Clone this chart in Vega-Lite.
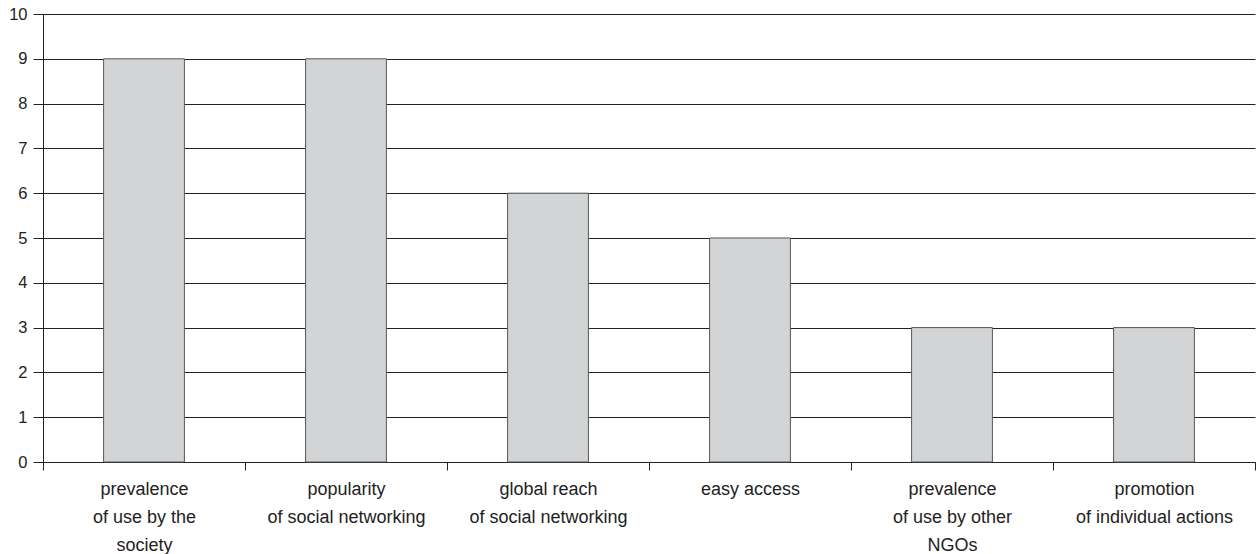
{
  "$schema": "https://vega.github.io/schema/vega-lite/v6.json",
  "width": 1212,
  "height": 448,
  "autosize": {"type": "none"},
  "padding": {"left": 43, "top": 14, "right": 1, "bottom": 92},
  "background": "white",
  "config": {
    "view": {"stroke": null},
    "font": "Liberation Sans"
  },
  "data": {
    "values": [
      {"reason": "prevalence|of use by the|society", "count": 9},
      {"reason": "popularity|of social networking", "count": 9},
      {"reason": "global reach|of social networking", "count": 6},
      {"reason": "easy access", "count": 5},
      {"reason": "prevalence|of use by other|NGOs", "count": 3},
      {"reason": "promotion|of individual actions", "count": 3}
    ]
  },
  "mark": {
    "type": "bar",
    "width": {"band": 0.4},
    "fill": "#d3d4d6",
    "stroke": "#555555",
    "strokeWidth": 1
  },
  "encoding": {
    "x": {
      "field": "reason",
      "type": "nominal",
      "sort": null,
      "scale": {"paddingInner": 0, "paddingOuter": 0},
      "axis": {
        "title": null,
        "labelAngle": 0,
        "labelExpr": "split(datum.label, '|')",
        "labelFont": "Liberation Sans",
        "labelFontSize": 18,
        "labelColor": "#222222",
        "labelLineHeight": 28,
        "labelPadding": 10,
        "labelLimit": 300,
        "tickBand": "extent",
        "tickSize": 8,
        "tickColor": "#222222",
        "domainColor": "#222222"
      }
    },
    "y": {
      "field": "count",
      "type": "quantitative",
      "scale": {"domain": [0, 10]},
      "axis": {
        "title": null,
        "values": [0, 1, 2, 3, 4, 5, 6, 7, 8, 9, 10],
        "grid": true,
        "gridColor": "#222222",
        "gridOpacity": 1,
        "tickSize": 10,
        "tickColor": "#222222",
        "domainColor": "#222222",
        "labelFont": "Liberation Sans",
        "labelFontSize": 16.5,
        "labelColor": "#222222",
        "labelPadding": 6
      }
    }
  }
}
